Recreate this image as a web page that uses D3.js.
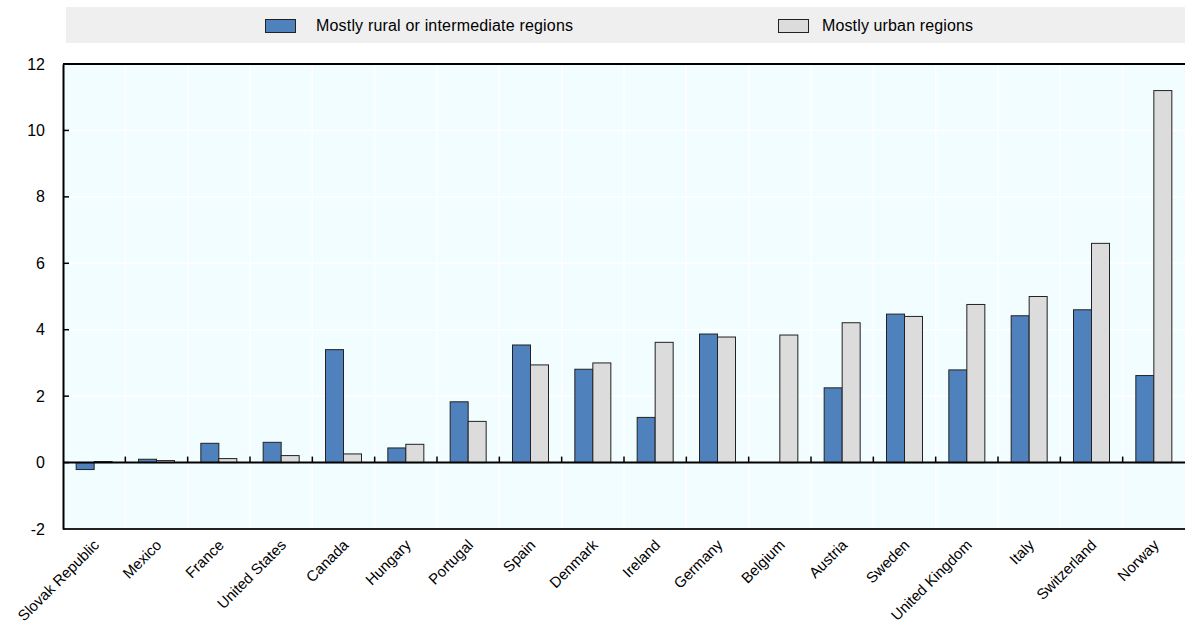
<!DOCTYPE html>
<html><head><meta charset="utf-8">
<script src="https://cdn.jsdelivr.net/npm/d3@7/dist/d3.min.js"></script>
<style>body{margin:0;background:#fff;} text{font-family:"Liberation Sans",Arial,sans-serif;}</style>
</head><body><svg id="c" width="1195" height="626"></svg>
<script>
const categories = ["Slovak Republic","Mexico","France","United States","Canada","Hungary","Portugal","Spain","Denmark","Ireland","Germany","Belgium","Austria","Sweden","United Kingdom","Italy","Switzerland","Norway"];
const rural = [-0.21,0.1,0.58,0.61,3.4,0.44,1.83,3.54,2.81,1.36,3.87,null,2.25,4.47,2.79,4.42,4.6,2.62];
const urban = [0.03,0.06,0.12,0.21,0.26,0.55,1.24,2.94,3.0,3.62,3.78,3.84,4.21,4.4,4.76,5.0,6.6,11.2];
const seriesNames = ["Mostly rural or intermediate regions","Mostly urban regions"];
const yTicks = [-2,0,2,4,6,8,10,12];

const svg = d3.select("#c");
const L=63, R=1185, T=64, B=529;
const x = d3.scaleBand().domain(categories).range([L,R]).padding(0);
const y = d3.scaleLinear().domain([-2,12]).range([B,T]);
const bw = 18;

// legend band
svg.append("rect").attr("x",66).attr("y",7).attr("width",1119).attr("height",36).attr("fill","#efefef");
const leg = [{c:"#4f81bd",x:265,tx:316},{c:"#dcdcdc",x:778,tx:822}];
leg.forEach((d,i)=>{
  svg.append("rect").attr("x",d.x+0.5).attr("y",19.5).attr("width",30).attr("height",13).attr("fill",d.c).attr("stroke","#222").attr("stroke-width",1);
  svg.append("text").attr("x",d.tx).attr("y",31).attr("font-size",16).attr("textLength", i===0?257:151).attr("fill","#000").text(seriesNames[i]);
});

// plot bg
svg.append("rect").attr("x",L).attr("y",T).attr("width",R-L).attr("height",B-T).attr("fill","#f2fdff");
// grid
svg.append("g").selectAll("line").data(yTicks.filter(v=>v!==-2&&v!==12&&v!==0)).join("line")
  .attr("x1",L).attr("x2",R).attr("y1",d=>y(d)).attr("y2",d=>y(d)).attr("stroke","#fff").attr("stroke-width",1.5);
svg.append("g").selectAll("line").data(categories.slice(1)).join("line")
  .attr("x1",d=>x(d)).attr("x2",d=>x(d)).attr("y1",T).attr("y2",B).attr("stroke","#fff").attr("stroke-width",1.5);

// bars
const g = svg.append("g");
categories.forEach((c,i)=>{
  const cx = x(c)+x.bandwidth()/2;
  [[rural[i],"#4f81bd",cx-bw],[urban[i],"#dcdcdc",cx]].forEach(([v,col,bx])=>{
    if(v===null) return;
    g.append("rect").attr("x",bx).attr("width",bw)
      .attr("y",y(Math.max(0,v))).attr("height",Math.abs(y(v)-y(0)))
      .attr("fill",col).attr("stroke","#222").attr("stroke-width",1);
  });
});

// zero line and ticks
svg.append("line").attr("x1",L).attr("x2",R).attr("y1",y(0)).attr("y2",y(0)).attr("stroke","#000").attr("stroke-width",2);
svg.append("g").selectAll("line").data(categories.slice(1)).join("line")
  .attr("x1",d=>x(d)).attr("x2",d=>x(d)).attr("y1",y(0)).attr("y2",y(0)-6).attr("stroke","#000").attr("stroke-width",1.5);
// top/bottom lines
svg.append("line").attr("x1",L).attr("x2",R).attr("y1",T).attr("y2",T).attr("stroke","#000").attr("stroke-width",2);
svg.append("line").attr("x1",L).attr("x2",R).attr("y1",B).attr("y2",B).attr("stroke","#222").attr("stroke-width",2);

const ya = d3.axisLeft(y).tickValues(yTicks).tickSize(0).tickPadding(18).tickFormat(d=>String(d));
const yg = svg.append("g").attr("transform",`translate(${L},0)`).call(ya);
yg.select(".domain").attr("stroke","#000").attr("stroke-width",2);
yg.selectAll("text").attr("font-size",16).attr("fill","#000").style("font-family","'Liberation Sans',Arial,sans-serif");
svg.append("g").selectAll("line").data(yTicks.filter(v=>v>-2&&v<12)).join("line")
  .attr("x1",L).attr("x2",L+6).attr("y1",d=>y(d)).attr("y2",d=>y(d)).attr("stroke","#000").attr("stroke-width",1.5);

// x labels
const xa = d3.axisBottom(x).tickSize(0).tickPadding(0);
const xg = svg.append("g").attr("transform",`translate(0,${B})`).call(xa);
xg.select(".domain").remove();
xg.selectAll("text").attr("font-size",15).attr("fill","#000").style("font-family","'Liberation Sans',Arial,sans-serif")
  .attr("text-anchor","end").attr("dy",0).attr("transform","translate(6,17) rotate(-45)");
</script></body></html>
